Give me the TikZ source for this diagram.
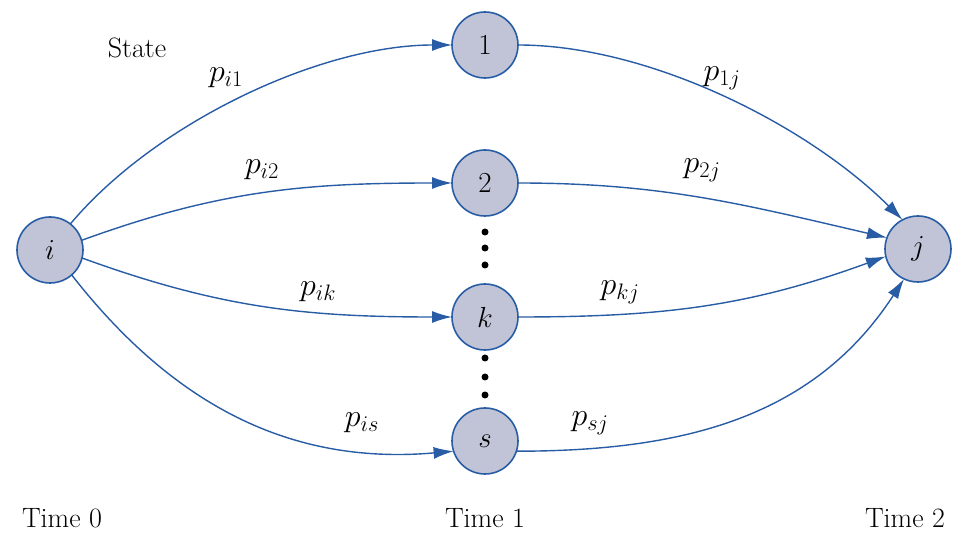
\RequirePackage{fix-cm}
\documentclass[tikz,border=0pt]{standalone}
\usetikzlibrary{arrows.meta}
\definecolor{edgeblue}{RGB}{40,92,165}
\definecolor{nodefill}{RGB}{192,196,214}
\begin{document}
\begin{tikzpicture}[x=1pt,y=1pt,
  state/.style={circle,draw=edgeblue,fill=nodefill,line width=1.6pt,minimum size=66pt,inner sep=0pt,outer sep=0pt,font=\fontsize{29}{34}\selectfont},
  conn/.style={draw=edgeblue,line width=1.4pt,-{Latex[length=20pt,width=12pt]}},
  plab/.style={font=\fontsize{32}{38}\selectfont,inner sep=0pt},
  txt/.style={font=\fontsize{28}{33}\selectfont,inner sep=0pt},
  dotn/.style={circle,fill=black,minimum size=7pt,inner sep=0pt}]
\useasboundingbox (0,0) rectangle (959,533);
\node[state] (i) at (50,283) {$i$};
\node[state] (n1) at (485,488) {1};
\node[state] (n2) at (485,350) {2};
\node[state] (nk) at (485,216) {$k$};
\node[state] (ns) at (485,92) {$s$};
\node[state] (j) at (918,284) {$j$};
\node[dotn] (d1) at (485,301) {};
\node[dotn] (d2) at (485,285) {};
\node[dotn] (d3) at (485,268) {};
\node[dotn] (d4) at (485,175) {};
\node[dotn] (d5) at (485,156) {};
\node[dotn] (d6) at (485,138) {};
\draw[conn] (i.52) to[out=50,in=180,looseness=0.8] (n1.west);
\draw[conn] (i.17) to[out=20,in=180] (n2.west);
\draw[conn] (i.-14) to[out=-20,in=180] (nk.west);
\draw[conn] (i.-49) to[out=-52,in=185] (ns.198);
\draw[conn] (n1.east) to[out=0,in=135,looseness=0.8] (j.118);
\draw[conn] (n2.east) to[out=0,in=167] (j.160);
\draw[conn] (nk.east) to[out=0,in=200] (j.193);
\draw[conn] (ns.-18) to[out=0,in=237] (j.245);
\node[plab] (l1) at (226,455) {$p_{i1}$};
\node[plab] (l2) at (262,363) {$p_{i2}$};
\node[plab] (l3) at (318,241) {$p_{ik}$};
\node[plab] (l4) at (362,110) {$p_{is}$};
\node[plab] (l5) at (722,455) {$p_{1j}$};
\node[plab] (l6) at (702,363) {$p_{2j}$};
\node[plab] (l7) at (620,241) {$p_{kj}$};
\node[plab] (l8) at (590,110) {$p_{sj}$};
\node[txt] (st) at (137,485) {State};
\node[txt] (t0) at (62,15) {Time 0};
\node[txt] (t1) at (485,15) {Time 1};
\node[txt] (t2) at (905,15) {Time 2};
\end{tikzpicture}
\end{document}
